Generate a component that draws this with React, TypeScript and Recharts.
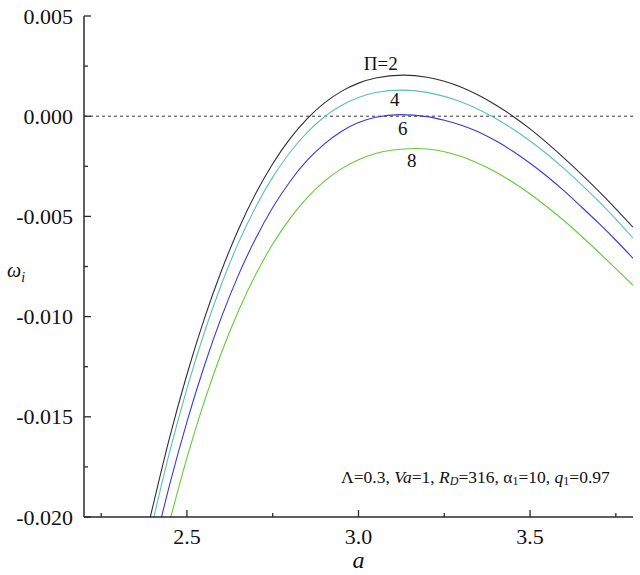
import React from 'react';
import { LineChart, Line, XAxis, YAxis, ReferenceLine, ReferenceDot } from 'recharts';

// ---- data ----
const aPi2 = [2.393, 2.45, 2.5, 2.55, 2.6, 2.65, 2.7, 2.75, 2.8, 2.85, 2.9, 2.95, 3.0, 3.05, 3.13, 3.2, 3.25, 3.3, 3.35, 3.4, 3.45, 3.5, 3.55, 3.6, 3.65, 3.7, 3.75, 3.8];
const wPi2 = [-0.02002, -0.016, -0.01289, -0.01014, -0.00774, -0.00565, -0.00387, -0.00237, -0.00113, -0.00013, 0.00065, 0.00124, 0.00165, 0.00191, 0.00205, 0.00194, 0.00174, 0.00144, 0.00104, 0.00056, 0.0, -0.00063, -0.00134, -0.0021, -0.0029, -0.00374, -0.00462, -0.00554];

const aPi4 = [2.4, 2.45, 2.5, 2.55, 2.6, 2.65, 2.7, 2.75, 2.8, 2.85, 2.9, 2.95, 3.0, 3.05, 3.125, 3.2, 3.25, 3.3, 3.35, 3.4, 3.45, 3.5, 3.55, 3.6, 3.65, 3.7, 3.75, 3.8];
const wPi4 = [-0.02026, -0.01673, -0.01359, -0.01083, -0.00841, -0.00632, -0.00454, -0.00304, -0.00181, -0.00082, -0.00004, 0.00053, 0.00093, 0.00118, 0.0013, 0.00119, 0.00099, 0.00071, 0.00034, -0.00011, -0.00064, -0.00124, -0.0019, -0.00263, -0.00341, -0.00425, -0.00513, -0.00608];

const aPi6 = [2.4, 2.45, 2.5, 2.55, 2.6, 2.65, 2.7, 2.75, 2.8, 2.85, 2.9, 2.95, 3.0, 3.05, 3.12, 3.2, 3.25, 3.3, 3.35, 3.4, 3.45, 3.5, 3.55, 3.6, 3.65, 3.7, 3.75, 3.8];
const wPi6 = [-0.02184, -0.01836, -0.01525, -0.01249, -0.01005, -0.00793, -0.00611, -0.00456, -0.00327, -0.00221, -0.00139, -0.00076, -0.00032, -0.00005, 0.00008, -0.00002, -0.0002, -0.00045, -0.00079, -0.00123, -0.00175, -0.00235, -0.00301, -0.00374, -0.00453, -0.00534, -0.00619, -0.00709];

const aPi8 = [2.45, 2.5, 2.55, 2.6, 2.65, 2.7, 2.75, 2.8, 2.85, 2.9, 2.95, 3.0, 3.05, 3.1, 3.166, 3.2, 3.25, 3.3, 3.35, 3.4, 3.45, 3.5, 3.55, 3.6, 3.65, 3.7, 3.75, 3.8];
const wPi8 = [-0.0202, -0.01705, -0.01427, -0.01183, -0.00972, -0.00791, -0.00638, -0.00511, -0.00407, -0.00325, -0.00263, -0.00217, -0.00186, -0.00169, -0.00161, -0.00164, -0.00177, -0.00201, -0.00236, -0.00278, -0.0033, -0.00388, -0.00453, -0.00523, -0.00599, -0.00679, -0.00761, -0.00844];

const xMajorTicks = [2.5, 3.0, 3.5];
const xMinorTicks = [2.25, 2.75, 3.25, 3.75];
const yMajorTicks = [-0.02, -0.015, -0.01, -0.005, 0, 0.005];
const yMinorTicks = [-0.0175, -0.0125, -0.0075, -0.0025, 0.0025];

const curveNames = ['Π=2', '4', '6', '8'];
const curveLabelA = [3.065, 3.106, 3.129, 3.155];
const curveLabelW = [0.00264, 0.00085, -0.0006, -0.0022];

const noteA = 2.949;
const noteW = -0.01801;

// ---- styling ----
const FONT = "'Liberation Serif', 'Times New Roman', Times, 'DejaVu Serif', serif";
const AXIS = '#2a2a2a';
const colors = ['#303030', '#5cc2ae', '#3838e2', '#62cc38'];

const toRows = (a: number[], w: number[]) => a.map((v, i) => ({ a: v, w: w[i] }));
const series = [toRows(aPi2, wPi2), toRows(aPi4, wPi4), toRows(aPi6, wPi6), toRows(aPi8, wPi8)];

const isIn = (arr: number[], v: number) => arr.some((t) => Math.abs(t - v) < 1e-9);

const Y_MARGIN = 11;
const X_MARGIN = 19;

const YTick = (props: any) => {
  const { x, y, payload } = props;
  const v = payload.value;
  const major = isIn(yMajorTicks, v);
  const axisX = x + Y_MARGIN;
  return (
    <g>
      <line x1={axisX} x2={axisX + (major ? 7 : 4)} y1={y} y2={y} stroke={AXIS} strokeWidth={1.3} />
      {major && (
        <text x={x} y={y} textAnchor="end" dominantBaseline="central" fontFamily={FONT} fontSize={22} fill="#111">
          {v.toFixed(3)}
        </text>
      )}
    </g>
  );
};

const XTick = (props: any) => {
  const { x, y, payload } = props;
  const v = payload.value;
  const major = isIn(xMajorTicks, v);
  const axisY = y - X_MARGIN;
  return (
    <g>
      <line x1={x} x2={x} y1={axisY} y2={axisY - (major ? 7 : 4)} stroke={AXIS} strokeWidth={1.3} />
      {major && (
        <text x={x} y={y} textAnchor="middle" dominantBaseline="central" fontFamily={FONT} fontSize={22} fill="#111">
          {v.toFixed(1)}
        </text>
      )}
    </g>
  );
};

const XLabel = (props: any) => {
  const vb = props.viewBox;
  return (
    <text x={vb.x + vb.width / 2} y={vb.y + 51} textAnchor="middle" fontFamily={FONT} fontSize={24} fontStyle="italic" fill="#111">
      a
    </text>
  );
};

const YLabel = (props: any) => {
  const vb = props.viewBox;
  return (
    <text x={vb.x + 7} y={vb.y + vb.height / 2 + 10} fontFamily={FONT} fontSize={20} fill="#111">
      <tspan fontStyle="italic">ω</tspan>
      <tspan fontStyle="italic" fontSize={14} dy={5}>i</tspan>
    </text>
  );
};

const NoteShape = (props: any) => {
  const { cx, cy } = props;
  const sub = { fontSize: 12, dy: 4 } as any;
  return (
    <text x={cx} y={cy} fontFamily={FONT} fontSize={17.5} fill="#111" dominantBaseline="central">
      <tspan>Λ=0.3, </tspan>
      <tspan fontStyle="italic">Va</tspan>
      <tspan>=1, </tspan>
      <tspan fontStyle="italic">R</tspan>
      <tspan {...sub} fontStyle="italic">D</tspan>
      <tspan dy={-4}>=316, α</tspan>
      <tspan {...sub}>1</tspan>
      <tspan dy={-4}>=10, </tspan>
      <tspan fontStyle="italic">q</tspan>
      <tspan {...sub}>1</tspan>
      <tspan dy={-4}>=0.97</tspan>
    </text>
  );
};

const makeCurveLabel = (txt: string) => (props: any) => (
  <text x={props.cx} y={props.cy} textAnchor="middle" dominantBaseline="central" fontFamily={FONT} fontSize={19} fill="#111">
    {txt}
  </text>
);

export default function App() {
  return (
    <div style={{ position: 'absolute', left: 0, top: 0, width: 640, height: 575, background: '#fff', fontFamily: FONT }}>
      <LineChart width={640} height={575} margin={{ top: 16, right: 7, bottom: 0, left: 0 }}>
        <XAxis
          dataKey="a"
          type="number"
          domain={[2.2, 3.8]}
          ticks={[...xMinorTicks, ...xMajorTicks].sort((p, q) => p - q)}
          interval={0}
          height={58}
          tickSize={0}
          tickMargin={X_MARGIN}
          tick={<XTick />}
          axisLine={{ stroke: AXIS, strokeWidth: 1.5 }}
          allowDataOverflow
          label={<XLabel />}
        />
        <XAxis
          xAxisId="top"
          orientation="top"
          type="number"
          domain={[2.2, 3.8]}
          height={0}
          tick={false}
          tickLine={false}
          axisLine={{ stroke: AXIS, strokeWidth: 1.5 }}
        />
        <YAxis
          dataKey="w"
          type="number"
          domain={[-0.02, 0.005]}
          ticks={[...yMinorTicks, ...yMajorTicks].sort((p, q) => p - q)}
          interval={0}
          width={84}
          tickSize={0}
          tickMargin={Y_MARGIN}
          tick={<YTick />}
          axisLine={{ stroke: AXIS, strokeWidth: 1.5 }}
          allowDataOverflow
          label={<YLabel />}
        />
        <YAxis
          yAxisId="right"
          orientation="right"
          type="number"
          domain={[-0.02, 0.005]}
          width={0}
          tick={false}
          tickLine={false}
          axisLine={{ stroke: AXIS, strokeWidth: 1.5 }}
        />
        <ReferenceLine y={0} stroke="#333" strokeWidth={1} strokeDasharray="3 3" />
        {series.map((d, i) => (
          <Line
            key={i}
            data={d}
            dataKey="w"
            type="monotone"
            stroke={colors[i]}
            strokeWidth={1.1}
            dot={false}
            activeDot={false}
            isAnimationActive={false}
          />
        ))}
        {curveNames.map((n, i) => (
          <ReferenceDot key={n} x={curveLabelA[i]} y={curveLabelW[i]} r={0} shape={makeCurveLabel(n)} />
        ))}
        <ReferenceDot x={noteA} y={noteW} r={0} shape={(p: any) => <NoteShape {...p} />} />
      </LineChart>
    </div>
  );
}
